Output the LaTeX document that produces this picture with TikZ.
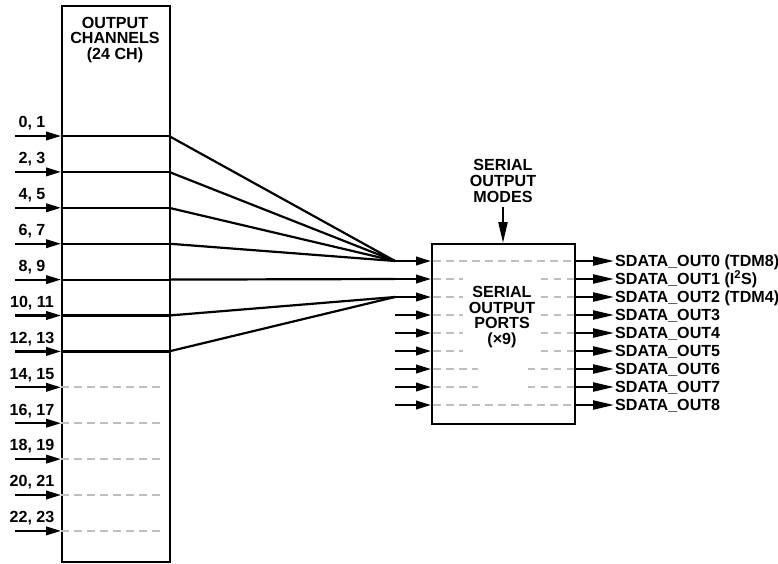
\documentclass[tikz,border=0pt]{standalone}
\usepackage{fontspec}
\setmainfont{Liberation Sans}
\usetikzlibrary{arrows.meta}
\begin{document}
\begin{tikzpicture}[x=1pt,y=-1pt,
  txt/.style={font=\fontsize{16.1}{15.8}\selectfont\bfseries, inner sep=0pt, align=center},
  wire/.style={line width=2.2pt, line cap=butt},
  inarr/.style={wire, -{Triangle[length=15pt,width=8.5pt]}},
  outarr/.style={wire, -{Triangle[length=21pt,width=9pt]}},
  gdash/.style={line width=2pt, color=black!25, dash pattern=on 7.5pt off 5.5pt},
  boxline/.style={line width=2.3pt}]
\useasboundingbox (0,0) rectangle (778,563);
% left box
\node[draw, boxline, minimum width=108pt, minimum height=556pt, anchor=north west, inner sep=0pt] (chbox) at (61,5) {};
\node[txt] (chtitle) at (115,40) {OUTPUT\\CHANNELS\\(24 CH)};
% input rows
\foreach \k/\lab in {0/{0, 1},1/{2, 3},2/{4, 5},3/{6, 7},4/{8, 9},5/{10, 11},6/{12, 13},7/{14, 15},8/{16, 17},9/{18, 19},10/{20, 21},11/{22, 23}}{
  \pgfmathsetmacro{\yy}{136+35.9*\k}
  \coordinate (in\k) at (15,\yy);
  \coordinate (ch\k) at (61,\yy);
  \coordinate (chr\k) at (169,\yy);
  \coordinate (chd\k) at (162,\yy);
  \node[txt] (lab\k) at (32,\yy-12.5) {\lab};
  \draw[inarr] (in\k) -- (ch\k);
}
\foreach \k in {0,...,6}{ \draw[wire] (ch\k) -- (chr\k); }
\foreach \k in {7,...,11}{ \draw[gdash] (ch\k) -- (chd\k); }
% right box
\node[draw, boxline, minimum width=143pt, minimum height=180pt, anchor=north west, inner sep=0pt] (ports) at (431,243) {};
\node[txt] (portstxt) at (502,317) {SERIAL\\OUTPUT\\PORTS\\(×9)};
\node[txt] (modes) at (503,181) {SERIAL\\OUTPUT\\MODES};
\coordinate (modesend) at (503,207);
\draw[outarr] (modesend) -- (ports.north -| modesend);
% port rows
\foreach \i/\lab in {0/{SDATA\_OUT0 (TDM8)},1/{SDATA\_OUT1 (I\textsuperscript{2}S)},2/{SDATA\_OUT2 (TDM4)},3/{SDATA\_OUT3},4/{SDATA\_OUT4},5/{SDATA\_OUT5},6/{SDATA\_OUT6},7/{SDATA\_OUT7},8/{SDATA\_OUT8}}{
  \pgfmathsetmacro{\yy}{261+18*\i}
  \coordinate (j\i) at (395,\yy);
  \coordinate (pl\i) at (431,\yy);
  \coordinate (pr\i) at (574,\yy);
  \coordinate (po\i) at (614,\yy);
  \coordinate (dl\i) at (433,\yy);
  \node[txt, anchor=base west] (out\i) at (615,\yy+5.8) {\lab};
  \draw[inarr] (j\i) -- (pl\i);
  \draw[outarr] (pr\i) -- (po\i);
}
% fan-in wires
\foreach \k in {0,...,3}{ \draw[wire] (chr\k) -- (j0); }
\draw[wire] (chr4) -- (j1);
\draw[wire] (chr5) -- (j2);
\draw[wire] (chr6) -- (j2);
% dashed rows inside ports
\draw[gdash] (dl0) -- (pr0);
\draw[gdash] (dl8) -- (pr8);
\foreach \i in {1,...,5}{
  \coordinate (la\i) at (463,261+18*\i);
  \coordinate (ra\i) at (541,261+18*\i);
  \draw[gdash] (dl\i) -- (la\i);
  \draw[gdash] (pr\i) -- (ra\i);
}
\foreach \i in {6,7}{
  \coordinate (la\i) at (478,261+18*\i);
  \coordinate (ra\i) at (527,261+18*\i);
  \draw[gdash] (dl\i) -- (la\i);
  \draw[gdash] (pr\i) -- (ra\i);
}
\end{tikzpicture}
\end{document}
